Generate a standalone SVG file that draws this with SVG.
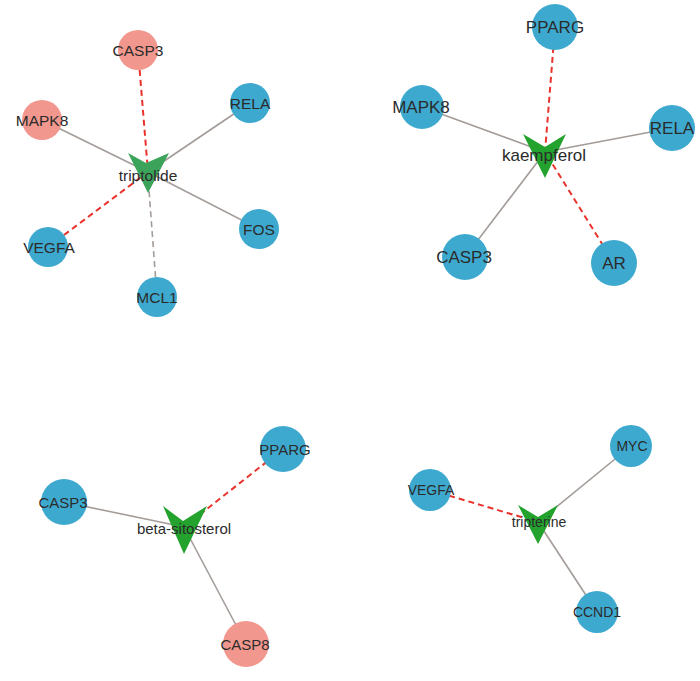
<svg xmlns="http://www.w3.org/2000/svg" width="700" height="681" viewBox="0 0 700 681">
<style>
.e{stroke:#a39c98;stroke-width:1.6;fill:none}
.r{stroke:#e8322b;stroke-width:2;stroke-dasharray:6 4;fill:none}
.g{stroke:#a39c98;stroke-width:1.6;stroke-dasharray:6 4;fill:none}
.b{fill:#3ea9cf}
.s{fill:#f2978e}
.v{fill:#23a32e}
.t{font-family:"Liberation Sans",Arial,sans-serif;fill:#2b2b2b;text-anchor:middle}
.f1{font-size:15.5px}.f2{font-size:17px}.f3{font-size:15px}.f4{font-size:14px}
</style>
<rect width="700" height="681" fill="#fff"/>
<g id="edges">
<line class="r" x1="138" y1="50" x2="148" y2="172"/>
<line class="e" x1="250" y1="103" x2="148" y2="172"/>
<line class="e" x1="42" y1="120" x2="148" y2="172"/>
<line class="e" x1="259" y1="229" x2="148" y2="172"/>
<line class="r" x1="48" y1="247" x2="148" y2="172"/>
<line class="g" x1="157" y1="297" x2="149" y2="190"/>
<line class="r" x1="555" y1="27" x2="545" y2="152"/>
<line class="e" x1="422" y1="107" x2="545" y2="152"/>
<line class="e" x1="672" y1="128" x2="545" y2="152"/>
<line class="e" x1="465" y1="257" x2="545" y2="152"/>
<line class="r" x1="614" y1="263" x2="545" y2="152"/>
<line class="r" x1="283" y1="449" x2="184" y2="527"/>
<line class="e" x1="64" y1="502" x2="184" y2="527"/>
<line class="e" x1="246" y1="644" x2="184" y2="527"/>
<line class="r" x1="430" y1="490" x2="538" y2="522"/>
<line class="e" x1="631" y1="446" x2="538" y2="522"/>
<line class="e" x1="597" y1="612" x2="538" y2="522"/>
</g>
<g id="triptolide"><polygon fill="#3ca35a" points="128,153 146,163 169,153 148,193"/><text class="t f1" x="148" y="181">triptolide</text></g>
<g id="t_CASP3"><circle class="s" cx="138" cy="50" r="20"/><text class="t f1" x="138" y="55.5">CASP3</text></g>
<g id="t_RELA"><circle class="b" cx="250" cy="103" r="20"/><text class="t f1" x="250" y="108.5">RELA</text></g>
<g id="t_MAPK8"><circle class="s" cx="42" cy="120" r="20"/><text class="t f1" x="42" y="125.5">MAPK8</text></g>
<g id="t_FOS"><circle class="b" cx="259" cy="229" r="20"/><text class="t f1" x="259" y="234.5">FOS</text></g>
<g id="t_VEGFA"><circle class="b" cx="48" cy="247" r="20"/><text class="t f1" x="49" y="252.5">VEGFA</text></g>
<g id="t_MCL1"><circle class="b" cx="157" cy="297" r="20"/><text class="t f1" x="157" y="302.5">MCL1</text></g>
<g id="kaempferol"><polygon class="v" points="523,134 545,147 566,134 545,178"/><text class="t f2" x="544" y="161">kaempferol</text></g>
<g id="k_PPARG"><circle class="b" cx="555" cy="27" r="23"/><text class="t f2" x="555" y="33">PPARG</text></g>
<g id="k_MAPK8"><circle class="b" cx="422" cy="107" r="22"/><text class="t f2" x="421" y="113">MAPK8</text></g>
<g id="k_RELA"><circle class="b" cx="672" cy="128" r="23"/><text class="t f2" x="672" y="134">RELA</text></g>
<g id="k_CASP3"><circle class="b" cx="465" cy="257" r="23"/><text class="t f2" x="464" y="263">CASP3</text></g>
<g id="k_AR"><circle class="b" cx="614" cy="263" r="23"/><text class="t f2" x="614" y="269">AR</text></g>
<g id="beta-sitosterol"><polygon class="v" points="163,506 183,521 207,506 184,554"/><text class="t f3" x="184" y="534">beta-sitosterol</text></g>
<g id="b_PPARG"><circle class="b" cx="283" cy="449" r="23"/><text class="t f3" x="285" y="454.5">PPARG</text></g>
<g id="b_CASP3"><circle class="b" cx="64" cy="502" r="23"/><text class="t f3" x="63" y="507.5">CASP3</text></g>
<g id="b_CASP8"><circle class="s" cx="246" cy="644" r="23"/><text class="t f3" x="245" y="649.5">CASP8</text></g>
<g id="tripterine"><polygon class="v" points="518,505 538,517 558,505 538,544"/><text class="t f4" x="539" y="527">tripterine</text></g>
<g id="p_MYC"><circle class="b" cx="631" cy="446" r="21"/><text class="t f4" x="632" y="451">MYC</text></g>
<g id="p_VEGFA"><circle class="b" cx="430" cy="490" r="21"/><text class="t f4" x="431" y="495">VEGFA</text></g>
<g id="p_CCND1"><circle class="b" cx="597" cy="612" r="21"/><text class="t f4" x="597" y="617">CCND1</text></g>
</svg>
